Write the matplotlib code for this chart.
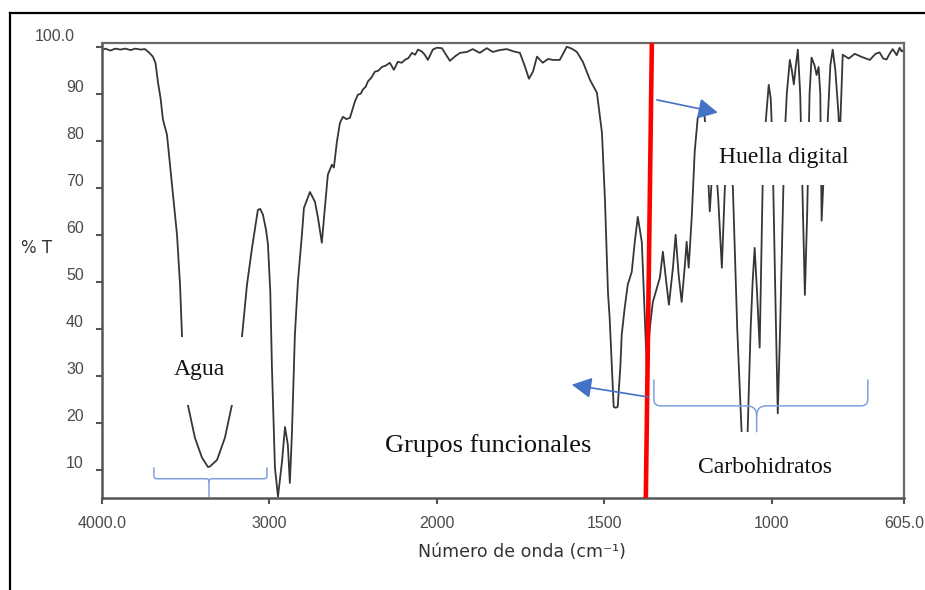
import numpy as np
import matplotlib
matplotlib.use("Agg")
import matplotlib.pyplot as plt
import matplotlib.transforms as mtransforms
from matplotlib.patches import Rectangle
from matplotlib.lines import Line2D

# ---------------- data ----------------
wavenumber = [
    4000, 3980, 3950, 3920, 3890, 3860, 3830, 3800, 3770, 3743, 3720, 3696, 3680,
    3666, 3650, 3636, 3625, 3612, 3582, 3552, 3534, 3522, 3505, 3487, 3445, 3403,
    3367, 3355, 3313, 3266, 3224, 3195, 3164, 3134, 3104, 3069, 3055, 3039, 3020,
    3009, 2995, 2985, 2967, 2949, 2925, 2907, 2890, 2878, 2866, 2848, 2830, 2806,
    2794, 2758, 2728, 2710, 2687, 2669, 2651, 2627, 2615, 2597, 2579, 2561, 2540,
    2519, 2490, 2472, 2455, 2442, 2425, 2412, 2390, 2370, 2350, 2328, 2305, 2281,
    2257, 2233, 2210, 2191, 2170, 2149, 2130, 2113, 2090, 2072, 2054, 2024, 2000,
    1985, 1961, 1945, 1931, 1910, 1893, 1872, 1851, 1833, 1812, 1791, 1770, 1752,
    1737, 1725, 1713, 1701, 1684, 1668, 1654, 1633, 1612, 1597, 1582, 1564, 1543,
    1522, 1507, 1498, 1489, 1484, 1476, 1472, 1466, 1460, 1452, 1448, 1439, 1430,
    1418, 1409, 1400, 1388, 1379, 1373, 1364, 1355, 1343, 1334, 1325, 1313, 1307,
    1295, 1287, 1278, 1269, 1260, 1254, 1248, 1239, 1230, 1221, 1209, 1203, 1195,
    1185, 1172, 1160, 1149, 1140, 1130, 1116, 1103, 1090, 1084, 1080, 1076, 1072,
    1063, 1057, 1051, 1044, 1036, 1027, 1018, 1009, 1003, 998, 990, 982, 975, 962,
    955, 946, 940, 934, 928, 922, 915, 907, 901, 894, 887, 881, 872, 866, 860, 855,
    851, 842, 833, 825, 818, 810, 801, 797, 791, 788, 770, 752, 730, 707, 690, 678,
    667, 657, 648, 639, 632, 627, 618, 612, 606,
]
transmittance = [
    99.3, 99.6, 99.2, 99.6, 99.4, 99.6, 99.3, 99.6, 99.4, 99.5, 98.8, 97.9, 96.5,
    92.5, 89.0, 84.5, 83.0, 81.3, 70.6, 60.0, 49.4, 38.3, 31.0, 23.8, 16.8, 12.6,
    10.6, 10.7, 12.1, 16.8, 23.8, 31.0, 38.3, 49.4, 57.2, 65.3, 65.5, 64.3, 61.0,
    58.0, 48.0, 31.7, 10.4, 4.3, 11.7, 19.1, 15.3, 7.2, 17.4, 38.7, 50.0, 60.0,
    65.7, 69.1, 67.0, 63.6, 58.3, 65.7, 72.8, 74.9, 74.3, 79.8, 83.8, 85.1, 84.6,
    84.9, 88.3, 89.8, 90.0, 90.9, 91.5, 92.6, 93.5, 94.7, 94.9, 95.7, 96.0, 96.6,
    95.1, 96.8, 96.6, 97.2, 97.6, 98.7, 98.3, 99.4, 99.0, 98.3, 97.2, 99.4, 99.8,
    99.7, 97.0, 98.0, 98.7, 98.9, 99.5, 98.7, 99.7, 98.9, 99.3, 99.5, 99.0, 98.7,
    95.8, 93.2, 94.7, 97.9, 96.6, 97.4, 97.2, 97.2, 100.0, 99.6, 98.9, 96.8, 93.0,
    90.2, 81.7, 67.4, 47.7, 42.3, 30.0, 23.4, 23.2, 23.4, 32.0, 38.7, 44.5, 49.4,
    52.1, 58.5, 63.8, 58.5, 42.3, 31.7, 40.2, 45.7, 48.7, 50.9, 56.4, 48.7, 45.1,
    53.0, 60.0, 51.5, 45.7, 53.0, 58.5, 53.0, 63.6, 77.7, 84.9, 86.2, 87.5, 80.0,
    65.0, 80.0, 68.0, 53.0, 70.0, 80.0, 70.0, 40.0, 18.0, 14.0, 16.5, 14.0, 18.0,
    40.0, 50.0, 57.2, 48.0, 36.0, 71.0, 84.0, 91.9, 89.0, 80.0, 50.0, 22.0, 40.0, 80.0,
    90.0, 97.2, 95.0, 92.0, 96.0, 99.4, 90.0, 65.0, 47.2, 65.0, 90.0, 97.7, 96.0, 94.0, 95.7, 90.0,
    63.0, 77.0, 84.0, 96.0, 99.4, 95.0, 86.0, 80.0, 92.0, 98.3, 97.5, 98.5, 97.8, 97.2, 98.5, 98.8,
    97.5, 97.3, 98.5, 99.5, 98.8, 98.2, 99.8, 99.0, 99.3,
]

x_ticks = [4000, 3000, 2000, 1500, 1000, 605]
x_tick_labels = ["4000.0", "3000", "2000", "1500", "1000", "605.0"]
y_ticks = [10, 20, 30, 40, 50, 60, 70, 80, 90, 100]
y_tick_labels = ["10", "20", "30", "40", "50", "60", "70", "80", "90", "100.0"]

x_label = "Número de onda (cm⁻¹)"
y_label = "% T"
region_labels = ["Agua", "Grupos funcionales", "Huella digital", "Carbohidratos"]

# red divider between functional-group and fingerprint regions (wavenumber, %T)
divider_wn = [1358, 1376]
divider_t = [100.8, 4.0]

# annotation arrows: (tail, tip) in (wavenumber, %T)
huella_arrow = [(1343, 88.7), (1161, 86.0)]
grupos_arrow = [(1370, 25.5), (1597, 28.1)]

# curly brackets: left, right, middle wavenumber; end-top, bar, tip %T
agua_bracket = [3690, 3015, 3361, 10.4, 8.1, 4.3]
carb_bracket = [1352, 713, 1045, 29.1, 23.6, 18.1]

# ---------------- figure ----------------
W, H = 925, 590
fig = plt.figure(figsize=(W / 100, H / 100), dpi=100)
fig.patch.set_facecolor("white")
ax = fig.add_axes([102 / W, 1 - 498 / H, 802 / W, 455 / H])


def fwd(x):
    x = np.asarray(x, dtype=float)
    return np.where(x <= 2000, x, 2000 + (x - 2000) / 2.0)


def inv(u):
    u = np.asarray(u, dtype=float)
    return np.where(u <= 2000, u, 2000 + (u - 2000) * 2.0)


ax.set_xscale("function", functions=(fwd, inv))
ax.set_xlim(4000, 605)
ax.set_ylim(4.0, 100.8)

ax.plot(wavenumber, transmittance, color="#363636", lw=1.3, zorder=2,
        solid_joinstyle="round")

# white boxes behind the region labels (they hide the trace, as in the source)
for (x0, y0, w, h) in [(0.0948, 0.2044, 0.0848, 0.1494),
                       (0.7506, 0.6879, 0.1945, 0.1385),
                       (0.7330, 0.0050, 0.1934, 0.1400)]:
    ax.add_patch(Rectangle((x0, y0), w, h, transform=ax.transAxes,
                           facecolor="white", edgecolor="none", zorder=3))

# red divider
ax.plot(divider_wn, divider_t, color="#ff0000", lw=3.3, zorder=6,
        solid_capstyle="butt")

# arrows
arrow_col = "#4472C4"
for tail, tip in (huella_arrow, grupos_arrow):
    ax.annotate("", xy=tip, xytext=tail, zorder=7,
                arrowprops=dict(arrowstyle="-|>,head_length=0.8,head_width=0.42",
                                color=arrow_col, lw=1.2, shrinkA=0, shrinkB=0,
                                mutation_scale=15))


# curly brackets drawn in pixel space, converted back to data
def draw_brace(spec, r_end, r_mid, color):
    xl, xr, xm, yt, yb, yp = spec
    T = ax.transData
    XL, YT = T.transform((xl, yt))
    XR, _ = T.transform((xr, yt))
    XM, YB = T.transform((xm, yb))
    _, YP = T.transform((xm, yp))

    def quad(p0, c, p1, n=10):
        t = np.linspace(0, 1, n)[:, None]
        p0, c, p1 = map(np.asarray, (p0, c, p1))
        return (1 - t) ** 2 * p0 + 2 * (1 - t) * t * c + t ** 2 * p1

    left = np.vstack([
        [[XL, YT]],
        quad((XL, YB + r_end), (XL, YB), (XL + r_end, YB)),
        quad((XM - r_mid, YB), (XM, YB), (XM, YB - r_mid)),
        [[XM, YP]],
    ])
    right = np.vstack([
        quad((XM, YB - r_mid), (XM, YB), (XM + r_mid, YB)),
        quad((XR - r_end, YB), (XR, YB), (XR, YB + r_end)),
        [[XR, YT]],
    ])
    inv_t = T.inverted()
    for seg in (left, right):
        d = inv_t.transform(seg)
        ax.plot(d[:, 0], d[:, 1], color=color, lw=1.1, zorder=5,
                solid_capstyle="round")


brace_col = "#7ea1dc"
draw_brace(agua_bracket, 3, 3, brace_col)
draw_brace(carb_bracket, 7, 10, brace_col)

# region labels
serif = ["Liberation Serif", "DejaVu Serif"]
ax.text(0.121, 0.270, region_labels[0], transform=ax.transAxes, ha="center",
        va="baseline", fontsize=17, family=serif, color="#111111", zorder=8)
ax.text(0.481, 0.101, region_labels[1], transform=ax.transAxes, ha="center",
        va="baseline", fontsize=19, family=serif, color="#111111", zorder=8)
ax.text(0.850, 0.736, region_labels[2], transform=ax.transAxes, ha="center",
        va="baseline", fontsize=17, family=serif, color="#111111", zorder=8)
ax.text(0.827, 0.055, region_labels[3], transform=ax.transAxes, ha="center",
        va="baseline", fontsize=17, family=serif, color="#111111", zorder=8)

# axes styling
for side in ("left", "bottom"):
    ax.spines[side].set_color("#555555")
    ax.spines[side].set_linewidth(1.8)
for side in ("top", "right"):
    ax.spines[side].set_color("#6a6a6a")
    ax.spines[side].set_linewidth(1.6)

ax.set_xticks(x_ticks)
ax.set_xticklabels(x_tick_labels)
ax.set_yticks(y_ticks)
ax.set_yticklabels(y_tick_labels)
ax.minorticks_off()
tick_font = ["Liberation Sans", "DejaVu Sans"]
ax.tick_params(axis="both", direction="out", length=4, width=1.5, color="#555555",
               labelcolor="#4a4a4a", labelsize=11.5)
ax.tick_params(axis="x", pad=9)
ax.tick_params(axis="y", pad=9)
for lbl in ax.get_xticklabels() + ax.get_yticklabels():
    lbl.set_family(tick_font)

# y labels sit a little above their ticks in the source
for lbl in ax.get_yticklabels():
    if lbl.get_text() == "100.0":
        off = mtransforms.ScaledTranslation(-6.5 / 72, 8.5 / 72, fig.dpi_scale_trans)
    else:
        off = mtransforms.ScaledTranslation(0, 5.8 / 72, fig.dpi_scale_trans)
    lbl.set_transform(lbl.get_transform() + off)

ax.set_xlabel(x_label, fontsize=12.5, family=["DejaVu Sans"], color="#333333")
ax.xaxis.set_label_coords(0.524, -0.098)
fig.text(37 / W, 1 - 248 / H, y_label, ha="center", va="center", fontsize=12,
         family=["DejaVu Sans"], color="#333333")

# outer frame fragments of the original figure
fig.add_artist(Line2D([10 / W, 1.0], [1 - 13 / H, 1 - 13 / H], color="black",
                      lw=1.6, transform=fig.transFigure))
fig.add_artist(Line2D([10 / W, 10 / W], [1 - 13 / H, 0.0], color="black",
                      lw=1.6, transform=fig.transFigure))

fig.savefig("out.png", dpi=100)
